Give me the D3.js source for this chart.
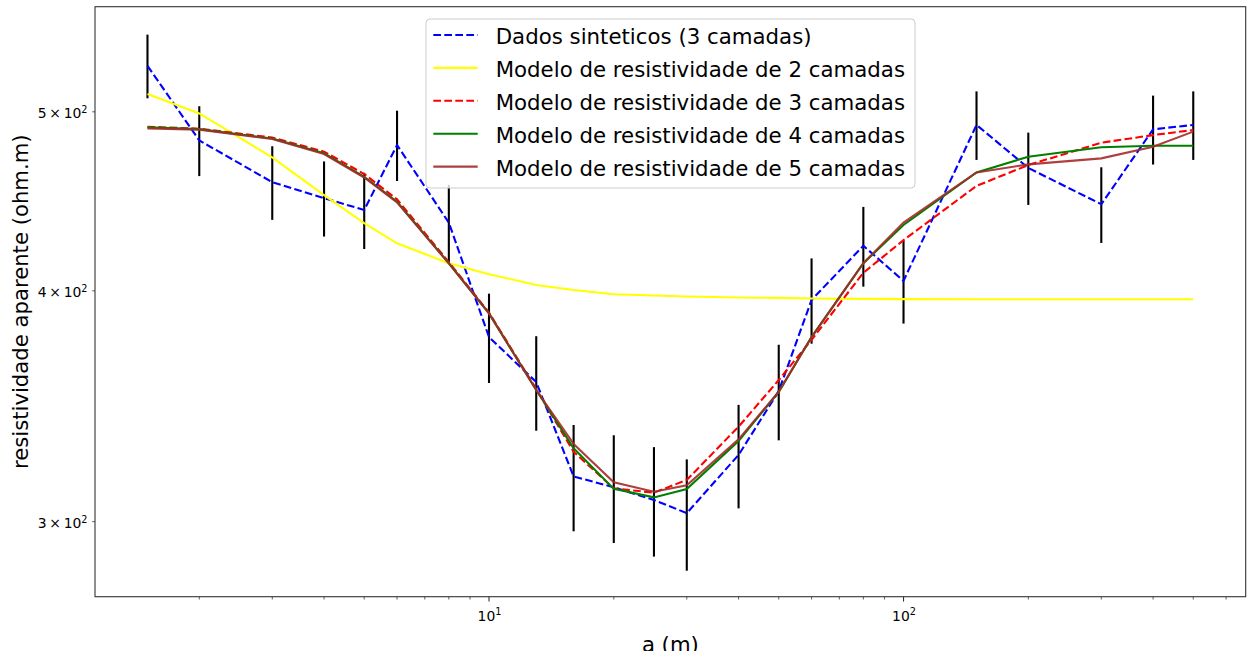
<!DOCTYPE html>
<html>
<head>
<meta charset="utf-8">
<script src="https://cdn.jsdelivr.net/npm/d3@7"></script>
<style>
  body { margin: 0; background: #fff; }
  text { font-family: "DejaVu Sans", sans-serif; fill: #000; }
</style>
</head>
<body>
<script>
// espacamento dos eletrodos (m)
const espacamento = [1.5, 2, 3, 4, 5, 6, 8, 10, 13, 16, 20, 25, 30, 40, 50, 60, 80, 100, 150, 200, 300, 400, 500];

// resistividade aparente (ohm.m)
const dadosSinteticos = [529.5, 482.5, 458, 449, 442.4, 479.7, 435.5, 377.6, 357, 317.4, 313.1, 308.2, 303.2, 326.0, 353, 395.5, 423.1, 405.0, 491.9, 466.2, 445.6, 489.2, 491.9];
const erro = 21;
const modelo2 = [511.2, 499.0, 472.4, 450.7, 435.2, 424.4, 414.0, 408.4, 402.9, 400.4, 398.3, 397.7, 397.2, 396.7, 396.5, 396.2, 396.0, 395.9, 395.8, 395.8, 395.8, 395.8, 395.8];
const modelo3 = [490.8, 489.6, 484.2, 475.8, 462.7, 448.3, 414.6, 389.3, 353.9, 327.3, 312.7, 311.0, 316.0, 337.7, 357.9, 376.3, 409.1, 426.1, 455.9, 467.9, 481.1, 485.7, 488.8];
const modelo4 = [490.4, 489.3, 483.6, 474.8, 461.1, 447.0, 414.0, 388.9, 353.5, 328.7, 312.5, 309.2, 312.4, 331.7, 352.7, 377.6, 414.0, 434.2, 463.6, 472.8, 478.4, 479.3, 479.3];
const modelo5 = [489.8, 489.0, 483.3, 474.4, 460.7, 446.6, 413.9, 388.9, 353.5, 330.5, 315.1, 311.4, 313.9, 332.4, 352.7, 377.6, 414.0, 435.5, 463.6, 468.3, 471.8, 478.7, 487.8];

const legendas = ["Dados sinteticos (3 camadas)", "Modelo de resistividade de 2 camadas", "Modelo de resistividade de 3 camadas", "Modelo de resistividade de 4 camadas", "Modelo de resistividade de 5 camadas"];

const xMajor = [10, 100];
const xMajorLabels = [["10", "1"], ["10", "2"]];
const xMinor = [2, 3, 4, 5, 6, 7, 8, 9, 20, 30, 40, 50, 60, 70, 80, 90, 200, 300, 400, 500, 600];
const yTicks = [300, 400, 500];
const yTickLabels = [["3", "2"], ["4", "2"], ["5", "2"]];

const W = 1251, H = 651;
const plotLeft = 95, plotRight = 1245.7, plotTop = 6.7, plotBottom = 596.7;

const svg = d3.select('body')
        .append('svg')
        .attr('width', W)
        .attr('height', H);

const x = d3.scaleLog()
        .domain([1.1207, 669.1])
        .range([plotLeft, plotRight]);

const y = d3.scaleLog()
        .domain([273.2, 570.0])
        .range([plotBottom, plotTop]);

const series = [
        {valores: dadosSinteticos, cor: 'blue', dash: '7.7,3.3', op: 1},
        {valores: modelo2, cor: 'yellow', dash: null, op: 1},
        {valores: modelo3, cor: 'red', dash: '7.7,3.3', op: 1},
        {valores: modelo4, cor: 'green', dash: null, op: 1},
        {valores: modelo5, cor: 'brown', dash: null, op: 0.9}
];

// barras de erro
svg.append('g')
        .selectAll('line')
        .data(espacamento)
        .enter()
        .append('line')
        .attr('x1', d => x(d))
        .attr('x2', d => x(d))
        .attr('y1', (d, i) => y(dadosSinteticos[i] - erro))
        .attr('y2', (d, i) => y(dadosSinteticos[i] + erro))
        .attr('stroke', 'black')
        .attr('stroke-width', 2.1);

const linha = d3.line()
        .x((d, i) => x(espacamento[i]))
        .y(d => y(d));

svg.append('g')
        .selectAll('path')
        .data(series)
        .enter()
        .append('path')
        .attr('d', s => linha(s.valores))
        .attr('fill', 'none')
        .attr('stroke', s => s.cor)
        .attr('stroke-width', 2.1)
        .attr('stroke-dasharray', s => s.dash)
        .attr('stroke-opacity', s => s.op);

// eixos
const axisColor = '#333';
svg.append('rect')
        .attr('x', plotLeft).attr('y', plotTop)
        .attr('width', plotRight - plotLeft).attr('height', plotBottom - plotTop)
        .attr('fill', 'none')
        .attr('stroke', axisColor)
        .attr('stroke-width', 1.1);

const gx = svg.append('g');
gx.selectAll('line.major')
        .data(xMajor)
        .enter()
        .append('line')
        .attr('class', 'major')
        .attr('x1', d => x(d)).attr('x2', d => x(d))
        .attr('y1', plotBottom).attr('y2', plotBottom + 4.9)
        .attr('stroke', axisColor).attr('stroke-width', 1.1);
gx.selectAll('line.minor')
        .data(xMinor)
        .enter()
        .append('line')
        .attr('class', 'minor')
        .attr('x1', d => x(d)).attr('x2', d => x(d))
        .attr('y1', plotBottom).attr('y2', plotBottom + 2.8)
        .attr('stroke', axisColor).attr('stroke-width', 0.8);

const xl = gx.selectAll('text')
        .data(xMajor)
        .enter()
        .append('text')
        .attr('x', d => x(d) + 0.5)
        .attr('y', 620.7)
        .attr('text-anchor', 'middle')
        .style('font-size', '13.9px');
xl.append('tspan').text((d, i) => xMajorLabels[i][0]);
xl.append('tspan').attr('dy', -5.5).style('font-size', '9.7px').text((d, i) => xMajorLabels[i][1]);

const gy = svg.append('g');
gy.selectAll('line')
        .data(yTicks)
        .enter()
        .append('line')
        .attr('x1', plotLeft - 2.8).attr('x2', plotLeft)
        .attr('y1', d => y(d)).attr('y2', d => y(d))
        .attr('stroke', axisColor).attr('stroke-width', 0.8);

const yl = gy.selectAll('text')
        .data(yTicks)
        .enter()
        .append('text')
        .attr('x', 87.5)
        .attr('y', d => y(d) + 6.5)
        .attr('text-anchor', 'end')
        .style('font-size', '13.9px');
yl.append('tspan').text((d, i) => yTickLabels[i][0] + '\u2009\u00d7\u200910');
yl.append('tspan').attr('dy', -5.5).style('font-size', '9.7px').text((d, i) => yTickLabels[i][1]);

// titulos dos eixos
svg.append('text')
        .attr('transform', 'translate(28.3,' + (plotTop + plotBottom) / 2 + ') rotate(-90)')
        .attr('text-anchor', 'middle')
        .style('font-size', '21.2px')
        .text('resistividade aparente (ohm.m)');

// o rotulo do eixo x fica cortado na borda inferior, como no original
svg.append('text')
        .attr('x', (plotLeft + plotRight) / 2)
        .attr('y', 652)
        .attr('text-anchor', 'middle')
        .style('font-size', '21.2px')
        .text('a (m)');

// legenda
const leg = svg.append('g');
leg.append('rect')
        .attr('x', 426).attr('y', 19)
        .attr('width', 489).attr('height', 169)
        .attr('rx', 4)
        .attr('fill', 'white').attr('fill-opacity', 0.8)
        .attr('stroke', '#ccc').attr('stroke-width', 1);

const item = leg.selectAll('g.item')
        .data(series)
        .enter()
        .append('g')
        .attr('class', 'item')
        .attr('transform', (d, i) => 'translate(0,' + (35 + i * 32.9) + ')');

item.append('line')
        .attr('x1', 433.3).attr('x2', 477.7)
        .attr('stroke', s => s.cor)
        .attr('stroke-width', 2.1)
        .attr('stroke-dasharray', s => s.dash)
        .attr('stroke-opacity', s => s.op);

item.append('text')
        .attr('x', 495.7)
        .attr('y', 9.3)
        .style('font-size', '21.3px')
        .text((d, i) => legendas[i]);
</script>
</body>
</html>
